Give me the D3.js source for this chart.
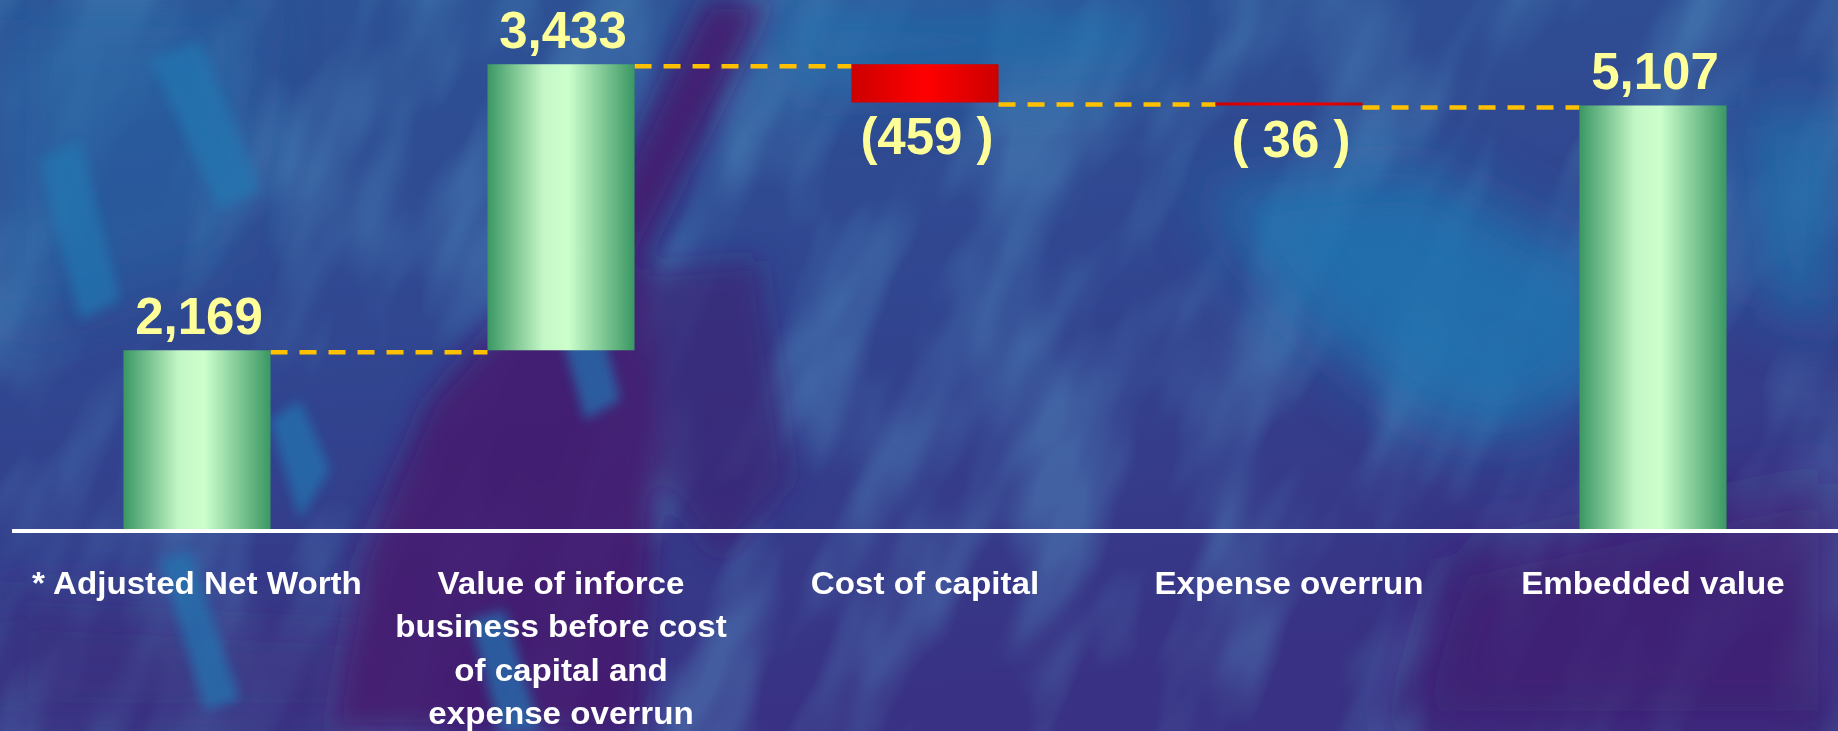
<!DOCTYPE html>
<html lang="en">
<head>
<meta charset="UTF-8">
<title>Embedded value waterfall</title>
<style>
    html, body { margin: 0; padding: 0; background: #2f4a90; overflow: hidden; }
    .value_label { font-family: "Liberation Sans", Arial, sans-serif; font-weight: bold; font-size: 51px; fill: #ffff99; }
    .cat_label { font-family: "Liberation Sans", Arial, sans-serif; font-weight: bold; font-size: 31px; fill: #ffffff; }
</style>
<script src="https://cdn.jsdelivr.net/npm/d3@7"></script>
</head>
<body>
<svg id="chart" width="1838" height="731"></svg>
<script>
    // chart data
    const categories = ["anw", "vif", "coc", "exp", "ev"];
    const categoryLines = [
        ["* Adjusted Net Worth"],
        ["Value of inforce", "business before cost", "of capital and", "expense overrun"],
        ["Cost of capital"],
        ["Expense overrun"],
        ["Embedded value"]
    ];
    const values = [2169, 3433, -459, -36, 5107];
    const kinds = ["total", "delta", "delta", "delta", "total"];
    const valueLabels = ["2,169", "3,433", "(459 )", "( 36 )", "5,107"];

    const W = 1838, H = 731;
    const svg = d3.select("#chart");
    const defs = svg.append("defs");

    // --- background (decorative texture) ---
    function addBlur(id, sd) {
        defs.append("filter").attr("id", id)
            .attr("x", "-50%").attr("y", "-50%").attr("width", "200%").attr("height", "200%")
            .append("feGaussianBlur").attr("stdDeviation", sd);
    }
    addBlur("blurL", 30);
    addBlur("blurM", 14);
    addBlur("blurS", 6);

    const noise = defs.append("filter").attr("id", "noise").attr("x", 0).attr("y", 0).attr("width", "100%").attr("height", "100%");
    noise.append("feTurbulence").attr("type", "fractalNoise").attr("baseFrequency", "0.011 0.004").attr("numOctaves", 3).attr("seed", 11);
    noise.append("feColorMatrix").attr("type", "matrix")
        .attr("values", "0 0 0 0 0.11  0 0 0 0 0.44  0 0 0 0 0.69  0 0 0 -3 1.75");

    const bgGrad = defs.append("linearGradient").attr("id", "bgGrad").attr("x1", 0).attr("y1", 0).attr("x2", 0.3).attr("y2", 1);
    bgGrad.append("stop").attr("offset", "0%").attr("stop-color", "#2c5395");
    bgGrad.append("stop").attr("offset", "50%").attr("stop-color", "#314690");
    bgGrad.append("stop").attr("offset", "100%").attr("stop-color", "#393284");

    const bg = svg.append("g").attr("class", "background");
    bg.append("rect").attr("width", W).attr("height", H).attr("fill", "url(#bgGrad)");
    bg.append("g").attr("transform", "rotate(24 919 365)")
        .append("rect").attr("x", -600).attr("y", -700).attr("width", W + 1200).attr("height", H + 1400)
        .attr("filter", "url(#noise)").attr("opacity", 0.32);

    const wide = bg.append("g").attr("filter", "url(#blurL)");
    wide.append("path").attr("d", "M 760 0 L 1180 0 L 1150 70 L 800 90 Z").attr("fill", "#1f6fab").attr("opacity", 0.75);
    wide.append("path").attr("d", "M 1200 190 L 1420 170 L 1600 260 L 1640 360 L 1520 440 L 1420 420 L 1300 320 Z")
        .attr("fill", "#1f74b0").attr("opacity", 0.85);
    wide.append("path").attr("d", "M 1740 110 L 1838 100 L 1838 330 L 1760 300 Z").attr("fill", "#1f72ad").attr("opacity", 0.8);
    wide.append("path").attr("d", "M 0 0 L 260 0 L 230 260 L 0 330 Z").attr("fill", "#2563a2").attr("opacity", 0.6);
    wide.append("path").attr("d", "M 1450 560 L 1838 480 L 1838 731 L 1400 731 Z").attr("fill", "#42196f").attr("opacity", 0.75);
    wide.append("path").attr("d", "M 0 600 L 400 620 L 400 731 L 0 731 Z").attr("fill", "#3b2a7a").attr("opacity", 0.5);

    const mid = bg.append("g").attr("filter", "url(#blurM)");
    // dark purple diagonal band
    mid.append("path")
        .attr("d", "M 705 0 L 770 0 L 690 160 L 640 260 L 660 420 L 640 731 L 330 731 L 360 560 L 430 400 L 520 300 L 610 200 Z")
        .attr("fill", "#44166d").attr("opacity", 0.85);
    mid.append("path").attr("d", "M 640 270 L 760 260 L 790 480 L 720 560 L 660 480 Z").attr("fill", "#3d1c70").attr("opacity", 0.6);

    const fine = bg.append("g").attr("filter", "url(#blurS)").attr("fill", "#2077b2").attr("opacity", 0.7);
    fine.append("path").attr("d", "M 270 420 L 300 400 L 330 470 L 300 520 Z");
    fine.append("path").attr("d", "M 560 330 L 600 320 L 620 400 L 585 420 Z");
    fine.append("path").attr("d", "M 160 560 L 190 550 L 240 700 L 205 710 Z");
    fine.append("path").attr("d", "M 470 620 L 505 610 L 540 731 L 500 731 Z");
    fine.append("path").attr("d", "M 40 160 L 80 140 L 120 300 L 80 320 Z");
    fine.append("path").attr("d", "M 150 60 L 200 40 L 260 190 L 220 210 Z");

    // --- scales ---
    const x = d3.scaleBand()
        .domain(categories)
        .range([15, 1835])
        .paddingInner(0.596)
        .paddingOuter(0.298);
    const y = d3.scaleLinear().domain([0, 6373]).range([531, 0]);

    // waterfall steps
    let running = 0;
    const steps = categories.map(function (c, i) {
        let start, end;
        if (kinds[i] === "total") { start = 0; end = values[i]; }
        else { start = running; end = running + values[i]; }
        running = end;
        return { cat: c, start: start, end: end, value: values[i], label: valueLabels[i], lines: categoryLines[i] };
    });

    // gradients for bars
    const green = defs.append("linearGradient").attr("id", "greenGrad").attr("x1", 0).attr("x2", 1).attr("y1", 0).attr("y2", 0);
    green.append("stop").attr("offset", "0%").attr("stop-color", "#3a9763");
    green.append("stop").attr("offset", "38%").attr("stop-color", "#c4f7c6");
    green.append("stop").attr("offset", "55%").attr("stop-color", "#ccffcc");
    green.append("stop").attr("offset", "100%").attr("stop-color", "#3a9763");
    const red = defs.append("linearGradient").attr("id", "redGrad").attr("x1", 0).attr("x2", 1).attr("y1", 0).attr("y2", 0);
    red.append("stop").attr("offset", "0%").attr("stop-color", "#cc0000");
    red.append("stop").attr("offset", "50%").attr("stop-color", "#ff0000");
    red.append("stop").attr("offset", "100%").attr("stop-color", "#cc0000");

    // connectors
    svg.append("g").attr("class", "connectors")
        .selectAll("line")
        .data(steps.slice(0, -1))
        .enter().append("line")
        .attr("x1", function (d) { return x(d.cat) + x.bandwidth(); })
        .attr("x2", function (d, i) { return x(categories[i + 1]); })
        .attr("y1", function (d) { return y(d.end) + 2; })
        .attr("y2", function (d) { return y(d.end) + 2; })
        .attr("stroke", "#ffc000")
        .attr("stroke-width", 4.5)
        .attr("stroke-dasharray", "17 12");

    // bars
    svg.append("g").attr("class", "bars")
        .selectAll("rect")
        .data(steps)
        .enter().append("rect")
        .attr("x", function (d) { return x(d.cat); })
        .attr("width", x.bandwidth())
        .attr("y", function (d) { return y(Math.max(d.start, d.end)); })
        .attr("height", function (d) { return Math.abs(y(d.start) - y(d.end)); })
        .attr("fill", function (d) { return d.value < 0 ? "url(#redGrad)" : "url(#greenGrad)"; });

    // baseline
    svg.append("line")
        .attr("x1", 12).attr("x2", W)
        .attr("y1", y(0)).attr("y2", y(0))
        .attr("stroke", "#ffffff").attr("stroke-width", 4);

    // value labels
    svg.append("g").attr("class", "values")
        .selectAll("text")
        .data(steps)
        .enter().append("text")
        .attr("class", "value_label")
        .attr("text-anchor", "middle")
        .attr("x", function (d) { return x(d.cat) + x.bandwidth() / 2 + 2; })
        .attr("y", function (d) {
            return d.value < 0 ? y(Math.min(d.start, d.end)) + 52 : y(d.end) - 16;
        })
        .text(function (d) { return d.label; });

    // category labels (slightly widened, as in the original slide)
    const cats = svg.append("g").attr("class", "categories")
        .selectAll("text")
        .data(steps)
        .enter().append("text")
        .attr("class", "cat_label")
        .attr("text-anchor", "middle")
        .attr("transform", function (d) {
            return "translate(" + (x(d.cat) + x.bandwidth() / 2) + ",594) scale(1.07,1)";
        });
    cats.selectAll("tspan")
        .data(function (d) { return d.lines; })
        .enter().append("tspan")
        .attr("x", 0)
        .attr("dy", function (d, i) { return i === 0 ? 0 : 43.5; })
        .text(function (d) { return d; });
</script>
</body>
</html>
